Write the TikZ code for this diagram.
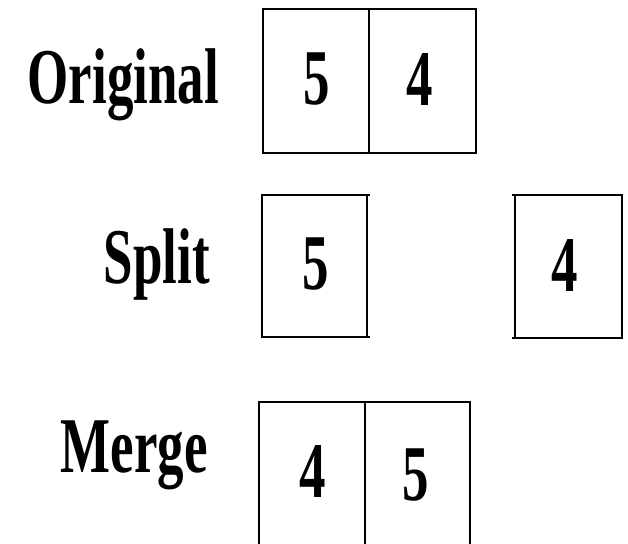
\documentclass[tikz,border=0pt]{standalone}
\usepackage{fontspec}
\setmainfont{Liberation Serif}
\begin{document}
\begin{tikzpicture}[x=1pt,y=-1pt,
  boxline/.style={line width=2.2pt, line cap=rect},
  lbl/.style={inner sep=0pt, anchor=base east, font=\fontsize{79}{80}\selectfont\bfseries},
  digit/.style={inner sep=0pt, anchor=base, font=\fontsize{79}{80}\selectfont\bfseries}]
\useasboundingbox (0,0) rectangle (628,543);
% labels
\node[lbl] (original) at (219,103) {\scalebox{0.67}[1]{Original}};
\node[lbl] (split) at (210,283) {\scalebox{0.67}[1]{Split}};
\node[lbl] (merge) at (208,472) {\scalebox{0.67}[1]{Merge}};
% original box
\draw[boxline] (263,9) rectangle (476,153);
\draw[boxline] (369,9) -- (369,153);
\node[digit] (o5) at (317,104) {\scalebox{0.67}[1]{5}};
\node[digit] (o4) at (420,105) {\scalebox{0.67}[1]{4}};
% split boxes
\draw[boxline] (369,195) -- (262,195) -- (262,337) -- (369,337);
\draw[boxline] (367,195) -- (367,337);
\draw[boxline] (513,195) -- (622,195) -- (622,338) -- (513,338);
\draw[boxline] (515,195) -- (515,338);
\node[digit] (s5) at (316,289) {\scalebox{0.67}[1]{5}};
\node[digit] (s4) at (565,291) {\scalebox{0.67}[1]{4}};
% merge box
\draw[boxline] (259,545) -- (259,402) -- (470,402) -- (470,545);
\draw[boxline] (365,402) -- (365,545);
\node[digit] (m4) at (313,497) {\scalebox{0.67}[1]{4}};
\node[digit] (m5) at (416,500) {\scalebox{0.67}[1]{5}};
\end{tikzpicture}
\end{document}
